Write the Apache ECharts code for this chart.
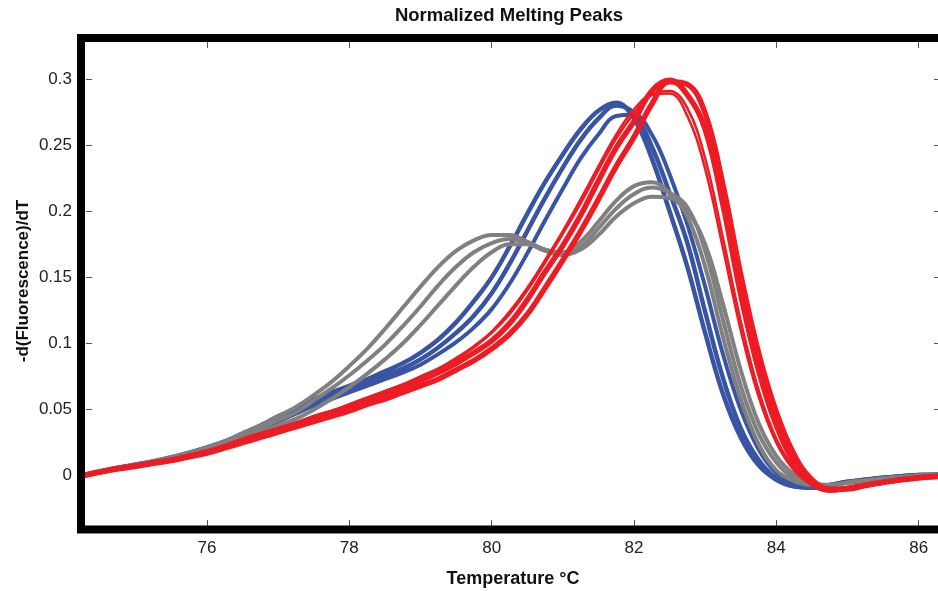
<!DOCTYPE html>
<html>
<head>
<meta charset="utf-8">
<script src="https://cdn.jsdelivr.net/npm/echarts@6/dist/echarts.min.js"></script>
<style>
html,body{margin:0;padding:0;background:#fff;}
#c{width:938px;height:591px;}
</style>
</head>
<body>
<div id="c"></div>
<script>
// Temperature samples (°C)
const temps = [74.25,74.5,74.75,75,75.25,75.5,75.75,76,76.25,76.5,
  76.75,77,77.25,77.5,77.75,78,78.25,78.5,78.75,79,
  79.25,79.5,79.75,80,80.25,80.5,80.75,81,81.25,81.5,
  81.75,82,82.25,82.5,82.75,83,83.25,83.5,83.75,84,
  84.25,84.5,84.75,85,85.25,85.5,85.75,86,86.25,86.5];

// Blue group
const blue1 = [0,.003,.006,.0085,.011,.014,.0175,.0215,.026,.032,
  .038,.045,.051,.058,.063,.068,.073,.079,.085,.093,
  .103,.116,.132,.150,.173,.198,.222,.243,.262,.276,
  .282,.270,.240,.200,.158,.108,.062,.029,.008,-.003,
  -.008,-.009,-.007,-.0045,-.003,-.0015,-.0003,.0005,.0008,.0008];
const blue2 = [0,.003,.006,.008,.0105,.0135,.0165,.0205,.025,.031,
  .037,.043,.049,.056,.061,.066,.071,.076,.081,.088,
  .097,.108,.121,.138,.160,.185,.210,.233,.254,.270,
  .280,.274,.249,.214,.176,.124,.074,.036,.012,-.002,
  -.008,-.009,-.007,-.0045,-.003,-.0015,-.0003,.0005,.0008,.0008];
const blue3 = [0,.003,.0055,.0078,.010,.013,.016,.0195,.024,.029,
  .035,.041,.047,.053,.058,.063,.068,.073,.078,.084,
  .092,.101,.112,.126,.145,.168,.193,.217,.240,.258,
  .272,.273,.258,.228,.190,.143,.092,.050,.020,.002,
  -.006,-.009,-.0075,-.005,-.003,-.0015,-.0003,.0005,.0008,.0008];

// Grey group
const grey1 = [0,.003,.006,.0085,.011,.014,.0175,.0215,.026,.032,
  .038,.045,.052,.061,.071,.083,.096,.111,.127,.143,
  .158,.170,.178,.182,.182,.177,.171,.169,.177,.192,
  .208,.219,.222,.214,.196,.158,.105,.058,.024,.004,
  -.004,-.007,-.007,-.005,-.0035,-.002,-.001,0,.0005,.0005];
const grey2 = [0,.003,.006,.008,.0105,.0135,.0165,.020,.025,.030,
  .036,.042,.048,.057,.066,.076,.087,.099,.113,.128,
  .144,.158,.169,.176,.179,.176,.170,.167,.173,.187,
  .202,.213,.218,.214,.203,.170,.118,.068,.032,.010,
  -.002,-.0065,-.0072,-.0052,-.0035,-.002,-.001,0,.0005,.0005];
const grey3 = [0,.003,.0055,.0078,.010,.013,.016,.019,.023,.028,
  .033,.038,.043,.050,.058,.067,.077,.088,.100,.114,
  .129,.144,.158,.169,.175,.175,.171,.167,.171,.182,
  .196,.206,.211,.210,.200,.175,.130,.080,.040,.015,
  .001,-.005,-.007,-.0055,-.0038,-.002,-.001,0,.0005,.0005];

// Red group
const red1 = [0,.003,.0055,.0075,.0098,.012,.015,.018,.022,.027,
  .031,.035,.039,.044,.048,.052,.057,.062,.067,.072,
  .078,.085,.093,.102,.115,.133,.154,.174,.197,.223,
  .248,.268,.291,.299,.288,.262,.205,.137,.080,.038,
  .010,-.006,-.011,-.0095,-.007,-.005,-.003,-.0015,-.0005,0];
const red2 = [0,.0028,.0052,.0072,.0094,.0115,.0143,.0172,.021,.025,
  .029,.033,.037,.041,.045,.049,.054,.058,.063,.068,
  .073,.080,.087,.096,.107,.122,.142,.163,.185,.209,
  .234,.256,.281,.298,.296,.274,.220,.152,.093,.048,
  .016,-.003,-.010,-.010,-.0075,-.005,-.003,-.0015,-.0005,0];
const red3 = [0,.003,.0055,.0078,.010,.0125,.0155,.019,.023,.0275,
  .032,.036,.040,.045,.049,.054,.059,.064,.069,.075,
  .081,.089,.098,.109,.124,.142,.163,.185,.209,.234,
  .258,.277,.288,.289,.272,.232,.172,.110,.060,.025,
  .004,-.007,-.011,-.0095,-.007,-.005,-.003,-.0015,-.0005,0];
const red4 = [0,.003,.0055,.0078,.010,.0125,.0155,.019,.023,.0275,
  .032,.036,.040,.045,.049,.054,.059,.064,.069,.075,
  .081,.088,.097,.108,.122,.140,.161,.183,.206,.231,
  .255,.274,.288,.291,.278,.240,.180,.117,.065,.028,
  .006,-.006,-.011,-.0095,-.007,-.005,-.003,-.0015,-.0005,0];

// Tick labels
const xTicks = [76,78,80,82,84,86];
const yTicks = [0,0.05,0.1,0.15,0.2,0.25,0.3];

const FONT = '"Liberation Sans", Arial, Helvetica, sans-serif';
const chart = echarts.init(document.getElementById('c'), null, {renderer:'canvas'});
function pairs(v){ return temps.map((t,i)=>[t, v[i]]); }

const groups = [
  {color:'#3a54a4', lines:[blue1,blue2,blue3], widths:[4.5,4.5,4]},
  {color:'#808080', lines:[grey1,grey2,grey3], widths:[4,4,4]},
  {color:'#ed1c24', lines:[red1,red2,red3,red4], widths:[5.5,5.5,2.5,2.5]}
];
const series = [];
groups.forEach(g=>{
  g.lines.forEach((l,i)=>{
    series.push({
      type:'line', data:pairs(l), showSymbol:false, smooth:0.4,
      lineStyle:{color:g.color, width:g.widths[i]}, itemStyle:{color:g.color},
      emphasis:{disabled:true}, silent:true, clip:true
    });
  });
});

const xMin = 74.3, xMax = 86.3, yMin = -0.038, yMax = 0.328;
const tickStyle = {color:'#555', width:1};

chart.setOption({
  animation:false,
  backgroundColor:'#fff',
  grid:{left:86, top:42, width:854, height:484, containLabel:false, outerBoundsMode:'none'},
  xAxis:[
    {type:'value', position:'bottom', min:xMin, max:xMax,
     axisLine:{show:false, onZero:false}, splitLine:{show:false},
     axisTick:{show:true, inside:true, length:6, lineStyle:tickStyle, customValues:xTicks},
     axisLabel:{customValues:xTicks, fontSize:17, color:'#222', margin:14, fontFamily:FONT},
     name:'Temperature \u00B0C', nameLocation:'middle', nameGap:44,
     nameTextStyle:{fontWeight:'bold', fontSize:18, color:'#111', fontFamily:FONT}},
    {type:'value', position:'top', min:xMin, max:xMax,
     axisLine:{show:false, onZero:false}, splitLine:{show:false},
     axisTick:{show:true, inside:true, length:6, lineStyle:tickStyle, customValues:xTicks},
     axisLabel:{show:false}}
  ],
  yAxis:[
    {type:'value', position:'left', min:yMin, max:yMax,
     axisLine:{show:false, onZero:false}, splitLine:{show:false},
     axisTick:{show:true, inside:true, length:6, lineStyle:tickStyle, customValues:yTicks},
     axisLabel:{customValues:yTicks, fontSize:17, color:'#222', margin:14, fontFamily:FONT}},
    {type:'value', position:'right', min:yMin, max:yMax,
     axisLine:{show:false, onZero:false}, splitLine:{show:false},
     axisTick:{show:true, inside:true, length:6, lineStyle:tickStyle, customValues:yTicks},
     axisLabel:{show:false}}
  ],
  graphic:[
    {type:'rect', z:100, silent:true,
     shape:{x:81, y:38, width:900, height:491.5},
     style:{fill:'transparent', stroke:'#000', lineWidth:8}},
    {type:'text', z:100, silent:true, x:509, y:16,
     style:{text:'Normalized Melting Peaks', font:'bold 18.5px ' + FONT, fill:'#111',
            align:'center', verticalAlign:'middle', textAlign:'center', textVerticalAlign:'middle'}},
    {type:'text', z:100, silent:true, x:23, y:281, rotation:Math.PI/2,
     style:{text:'-d(Fluorescence)/dT', font:'bold 17px ' + FONT, fill:'#111',
            align:'center', verticalAlign:'middle', textAlign:'center', textVerticalAlign:'middle'}}
  ],
  series: series
});
</script>
</body>
</html>
